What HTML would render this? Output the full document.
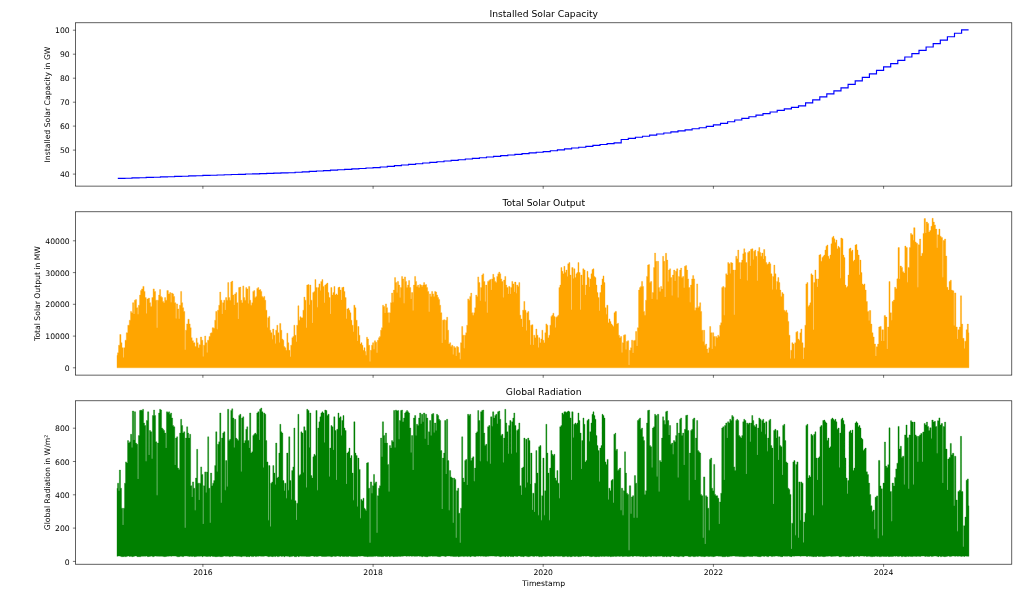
<!DOCTYPE html>
<html lang="en"><head><meta charset="utf-8"><title>Solar plots</title>
<style>
html,body{margin:0;padding:0;background:#fff;}
body{width:1024px;height:599px;overflow:hidden;}
svg{display:block;}
text{font-family:'DejaVu Sans','Liberation Sans',sans-serif;fill:#000;}
.t{font-size:9.2px;text-anchor:middle;}
.k{font-size:7.67px;}
.sp{fill:none;stroke:#000;stroke-width:0.62;}
.tk{stroke:#000;stroke-width:0.55;}
</style></head><body>
<svg width="1024" height="599" viewBox="0 0 1024 599">
<rect width="1024" height="599" fill="#fff"/>
<path d="M117.8,178.4 L124.9,178.4 L124.9,178.2 L132.0,178.2 L132.0,177.9 L139.1,177.9 L139.1,177.7 L146.2,177.7 L146.2,177.4 L153.3,177.4 L153.3,177.2 L160.4,177.2 L160.4,176.9 L167.5,176.9 L167.5,176.7 L174.6,176.7 L174.6,176.4 L181.7,176.4 L181.7,176.2 L188.7,176.2 L188.7,175.9 L195.8,175.9 L195.8,175.7 L202.9,175.7 L202.9,175.4 L210.0,175.4 L210.0,175.2 L217.1,175.2 L217.1,175.0 L224.2,175.0 L224.2,174.7 L231.3,174.7 L231.3,174.5 L238.4,174.5 L238.4,174.3 L245.5,174.3 L245.5,174.0 L252.6,174.0 L252.6,173.8 L259.7,173.8 L259.7,173.6 L266.7,173.6 L266.7,173.4 L273.8,173.4 L273.8,173.1 L280.9,173.1 L280.9,172.9 L288.0,172.9 L288.0,172.7 L295.1,172.7 L295.1,172.2 L302.2,172.2 L302.2,171.8 L309.3,171.8 L309.3,171.4 L316.4,171.4 L316.4,171.0 L323.5,171.0 L323.5,170.6 L330.5,170.6 L330.5,170.1 L337.6,170.1 L337.6,169.7 L344.7,169.7 L344.7,169.3 L351.8,169.3 L351.8,168.9 L358.9,168.9 L358.9,168.5 L366.0,168.5 L366.0,168.0 L373.1,168.0 L373.1,167.6 L380.2,167.6 L380.2,167.0 L387.3,167.0 L387.3,166.3 L394.4,166.3 L394.4,165.6 L401.4,165.6 L401.4,165.0 L408.5,165.0 L408.5,164.3 L415.6,164.3 L415.6,163.7 L422.7,163.7 L422.7,163.0 L429.8,163.0 L429.8,162.3 L436.9,162.3 L436.9,161.7 L444.0,161.7 L444.0,161.0 L451.1,161.0 L451.1,160.4 L458.2,160.4 L458.2,159.7 L465.3,159.7 L465.3,159.0 L472.4,159.0 L472.4,158.4 L479.4,158.4 L479.4,157.7 L486.5,157.7 L486.5,157.0 L493.6,157.0 L493.6,156.3 L500.7,156.3 L500.7,155.6 L507.8,155.6 L507.8,155.0 L514.9,155.0 L514.9,154.3 L522.0,154.3 L522.0,153.6 L529.1,153.6 L529.1,152.9 L536.2,152.9 L536.2,152.2 L543.2,152.2 L543.2,151.6 L550.3,151.6 L550.3,150.7 L557.4,150.7 L557.4,149.8 L564.5,149.8 L564.5,148.9 L571.6,148.9 L571.6,148.0 L578.7,148.0 L578.7,147.2 L585.8,147.2 L585.8,146.3 L592.9,146.3 L592.9,145.4 L600.0,145.4 L600.0,144.5 L607.1,144.5 L607.1,143.6 L614.1,143.6 L614.1,142.8 L621.2,142.8 L621.2,139.5 L628.3,139.5 L628.3,138.3 L635.4,138.3 L635.4,137.2 L642.5,137.2 L642.5,136.2 L649.6,136.2 L649.6,135.1 L656.7,135.1 L656.7,134.0 L663.8,134.0 L663.8,133.0 L670.9,133.0 L670.9,131.9 L678.0,131.9 L678.0,130.9 L685.1,130.9 L685.1,129.8 L692.1,129.8 L692.1,128.7 L699.2,128.7 L699.2,127.7 L706.3,127.7 L706.3,126.3 L713.4,126.3 L713.4,124.9 L720.5,124.9 L720.5,123.3 L727.6,123.3 L727.6,121.7 L734.7,121.7 L734.7,120.0 L741.8,120.0 L741.8,118.4 L748.9,118.4 L748.9,116.7 L756.0,116.7 L756.0,115.1 L763.0,115.1 L763.0,113.6 L770.1,113.6 L770.1,112.0 L777.2,112.0 L777.2,110.4 L784.3,110.4 L784.3,108.9 L791.4,108.9 L791.4,107.3 L798.5,107.3 L798.5,105.8 L805.6,105.8 L805.6,102.8 L812.7,102.8 L812.7,99.8 L819.8,99.8 L819.8,96.8 L826.8,96.8 L826.8,93.8 L833.9,93.8 L833.9,90.8 L841.0,90.8 L841.0,87.8 L848.1,87.8 L848.1,84.3 L855.2,84.3 L855.2,80.8 L862.3,80.8 L862.3,77.3 L869.4,77.3 L869.4,73.9 L876.5,73.9 L876.5,70.4 L883.6,70.4 L883.6,66.9 L890.7,66.9 L890.7,63.6 L897.8,63.6 L897.8,60.3 L904.8,60.3 L904.8,57.0 L911.9,57.0 L911.9,53.6 L919.0,53.6 L919.0,50.3 L926.1,50.3 L926.1,47.0 L933.2,47.0 L933.2,43.6 L940.3,43.6 L940.3,40.1 L947.4,40.1 L947.4,36.7 L954.5,36.7 L954.5,33.2 L961.6,33.2 L961.6,29.8 L968.6,29.8" fill="none" stroke="#0000ff" stroke-width="1.15" stroke-linejoin="miter"/>
<path d="M117.01,367.8V355.3H117.52V352.8H118.52V345.2H119.77V334.5H121.02V342.7H122.02V347.7H123.20V357.5H123.86V347.7H125.03V340.2H126.28V332.7H127.79V325.2H129.29V320.2H130.54V311.4H131.54V312.7H132.55V302.7H133.72V314.1H134.38V300.2H135.55V299.6H136.55V307.7H137.73V314.2H138.39V305.2H139.56V295.1H140.56V290.6H141.56V288.9H142.82V286.4H144.07V291.4H145.07V297.6H146.24V313.6H146.90V298.9H148.33V298.1H149.58V302.7H150.58V306.4H151.83V297.6H153.09V288.9H154.34V291.4H155.59V300.2H156.76V327.8H157.42V300.2H158.60V295.1H159.60V289.6H160.60V296.4H161.60V297.6H162.61V301.4H163.61V302.7H164.61V297.6H165.61V300.2H166.86V290.6H168.37V293.9H169.62V292.6H170.79V302.3H171.45V293.1H172.63V293.9H173.63V296.4H174.63V302.7H175.80V318.6H176.46V303.9H177.64V308.9H178.81V318.7H179.47V305.2H180.64V291.4H181.64V302.7H182.65V307.7H183.65V311.4H184.82V349.7H185.48V330.2H186.65V323.9H187.91V319.2H189.16V323.9H190.16V327.7H191.16V337.7H192.16V340.7H193.42V342.7H194.92V346.5H196.17V338.2H197.17V342.7H198.18V347.7H199.18V344.7H200.43V337.0H201.68V340.2H202.86V356.6H203.52V345.2H204.69V336.0H205.69V342.7H206.86V352.5H207.52V340.2H208.95V336.5H210.20V333.2H211.20V332.7H212.20V327.7H213.46V328.2H214.71V320.2H215.71V311.4H216.88V329.3H217.54V310.2H218.72V305.2H219.72V292.1H220.72V300.2H221.89V314.1H222.55V302.7H223.73V300.2H224.90V309.9H225.56V297.6H226.73V300.2H227.74V282.6H228.74V297.6H229.74V300.2H230.74V282.1H231.74V281.1H232.75V295.1H233.92V304.9H234.58V293.9H235.75V292.6H236.75V302.7H237.93V318.9H238.59V287.6H239.76V287.1H240.76V300.2H241.76V302.7H242.77V285.9H243.77V297.6H244.77V300.2H245.77V287.6H246.77V288.9H247.95V303.5H248.61V286.4H249.78V300.2H250.78V305.2H251.78V302.7H252.79V291.4H253.79V290.6H254.79V297.6H255.79V296.4H256.79V288.4H257.80V287.6H258.80V290.1H259.80V289.6H260.80V291.4H261.80V296.4H262.81V297.6H263.81V296.4H264.81V300.2H265.81V310.2H266.98V327.5H267.64V317.7H268.82V316.4H269.82V330.2H270.82V332.7H271.99V339.2H272.65V329.0H273.83V335.2H275.00V343.4H275.66V330.2H276.83V325.2H277.84V332.7H279.01V342.5H279.67V323.4H280.84V330.2H281.84V339.0H282.85V340.2H283.85V346.5H284.85V347.7H285.85V350.3H286.85V333.2H287.86V342.7H288.86V350.3H290.03V356.8H290.69V345.2H291.86V337.7H292.87V336.5H293.87V325.2H294.87V335.2H296.04V341.7H296.70V325.2H297.88V305.7H298.88V320.2H299.88V316.7H300.88V317.7H301.88V317.7H302.89V310.2H303.89V297.1H304.89V300.2H306.06V327.8H306.72V285.1H307.90V284.6H309.07V304.7H309.73V285.1H310.90V300.2H312.07V322.9H312.73V292.6H313.91V291.4H314.91V279.6H315.91V287.6H317.08V307.2H317.74V287.6H318.92V283.9H320.09V290.4H320.75V281.4H321.92V279.6H322.93V286.4H324.10V302.7H324.76V285.1H325.93V283.9H326.93V283.1H327.94V292.6H328.94V297.6H330.11V313.9H330.77V287.6H331.94V295.1H332.95V292.6H333.95V286.4H334.95V295.1H335.95V293.9H336.95V295.1H337.96V287.6H338.96V287.1H339.96V290.1H341.13V299.9H341.79V287.6H342.97V287.1H343.97V291.4H344.97V297.6H346.14V318.7H346.80V308.9H347.98V308.2H348.98V310.2H349.98V312.7H350.98V320.2H351.98V325.2H353.16V331.7H353.82V305.2H354.99V307.7H355.99V320.2H357.16V341.1H357.82V326.5H359.00V335.2H360.00V344.0H361.00V342.7H362.00V345.2H363.01V350.3H364.01V347.7H365.01V351.5H365.76V355.3H366.51V337.2H367.52V339.0H368.52V345.2H369.69V361.6H370.35V350.3H371.52V345.2H372.53V342.7H373.70V349.2H374.36V340.7H375.53V342.2H376.70V352.7H377.36V340.2H378.54V337.7H379.54V336.5H380.54V330.2H381.54V327.7H382.55V305.2H383.55V306.4H384.72V312.9H385.38V303.9H386.55V307.7H387.56V312.7H388.73V322.4H389.39V312.7H390.56V302.7H391.56V293.1H392.74V302.3H393.40V290.1H394.57V277.6H395.57V282.6H396.74V292.4H397.40V281.4H398.58V285.1H399.75V297.4H400.41V287.6H401.58V276.4H402.59V278.9H403.76V303.3H404.42V276.9H405.59V281.4H406.59V287.6H407.60V285.1H408.60V280.6H409.60V287.6H410.77V299.1H411.43V292.6H412.78V310.5H413.44V285.1H414.61V276.4H415.61V281.4H416.61V286.4H417.62V285.1H418.62V287.6H419.62V284.4H420.62V285.1H421.62V286.4H422.63V285.1H423.63V282.6H424.63V285.1H425.63V284.6H426.63V287.6H427.64V291.4H428.81V311.8H429.47V293.9H430.64V296.4H431.64V291.4H432.65V293.9H433.65V296.4H434.65V291.4H435.65V292.1H436.65V295.1H437.66V297.6H438.66V299.6H439.66V305.2H440.66V312.7H441.83V343.0H442.49V320.2H443.67V319.7H444.84V339.7H445.50V320.2H446.67V317.2H447.68V330.2H448.68V344.0H449.68V342.7H450.68V346.5H451.68V345.2H452.86V354.6H453.52V346.5H454.69V347.7H455.86V355.9H456.52V346.5H457.70V347.2H458.70V352.8H459.87V359.3H460.53V342.7H461.70V326.5H462.71V335.2H463.88V348.2H464.54V335.2H465.71V332.7H466.71V325.2H467.72V298.9H468.72V300.2H469.72V296.4H470.72V293.1H471.72V312.7H472.73V315.2H473.73V312.7H474.73V307.7H475.73V295.1H476.73V296.4H477.74V276.9H478.74V282.6H479.91V300.7H480.57V287.6H481.74V275.1H482.75V273.8H483.75V281.4H484.92V301.4H485.58V285.1H486.92V312.8H487.58V281.4H488.76V280.6H489.76V279.6H490.93V290.0H491.59V278.9H492.77V274.3H493.77V277.6H494.77V281.4H495.77V282.6H496.77V276.4H497.78V273.8H498.78V272.1H499.78V273.8H500.78V278.9H501.78V281.4H502.96V297.6H503.62V280.1H504.79V276.4H505.79V285.1H506.79V287.6H507.97V294.1H508.63V286.4H509.97V294.1H510.63V287.6H511.80V281.4H512.81V283.9H513.98V292.0H514.64V282.1H515.98V293.3H516.64V285.1H517.82V286.4H518.82V282.6H519.82V315.2H520.82V318.9H521.99V327.1H522.65V310.2H523.83V301.4H524.83V310.2H526.00V330.6H526.66V312.7H527.84V311.4H528.84V320.2H530.01V344.7H530.67V325.2H531.84V324.7H533.02V345.0H533.68V335.2H534.85V337.7H535.85V329.0H536.85V335.2H538.03V347.5H538.69V337.7H539.86V342.7H540.86V339.0H541.86V330.2H542.87V340.2H543.87V342.7H544.87V332.7H545.87V323.9H546.87V325.2H547.88V337.7H548.88V335.2H549.88V325.2H550.88V316.4H551.88V315.2H552.89V313.2H553.89V316.4H555.06V327.6H555.72V317.2H556.89V316.4H557.90V315.2H558.90V287.6H559.90V285.1H560.90V267.6H561.90V271.3H562.91V273.8H563.91V266.3H564.91V272.6H565.91V270.1H567.08V276.6H567.74V263.8H568.92V262.6H569.92V275.1H571.09V309.7H571.75V267.6H573.10V278.6H573.76V268.8H574.93V277.6H575.93V273.8H576.93V272.6H577.94V262.6H578.94V272.6H580.11V309.7H580.77V275.1H582.11V284.9H582.77V268.8H583.95V270.1H585.12V294.9H585.78V285.1H586.95V271.3H587.96V277.6H589.13V287.0H589.79V278.9H590.96V273.8H591.96V269.6H592.97V268.8H593.97V276.4H594.97V277.6H595.97V285.1H596.97V292.6H597.98V297.6H599.15V310.7H599.81V292.6H600.98V285.1H601.98V278.9H602.99V275.9H603.99V282.6H604.99V307.7H606.16V314.2H606.82V305.2H608.00V322.7H609.00V318.9H610.00V321.4H611.00V323.9H612.00V325.2H613.01V326.5H614.01V312.7H615.01V311.4H615.76V311.4H616.51V323.9H617.52V323.2H618.52V335.2H619.52V337.7H620.52V336.5H621.69V352.5H622.35V342.7H623.53V335.2H624.53V334.7H625.70V349.6H626.36V341.5H627.54V340.7H628.71V364.9H629.37V350.3H630.54V347.7H631.54V340.2H632.72V353.1H633.38V340.7H634.55V340.2H635.55V331.5H636.72V346.1H637.38V327.7H638.56V290.1H639.56V287.6H640.56V286.4H641.56V281.4H642.57V286.4H643.57V311.4H644.57V315.2H645.57V300.2H646.57V276.4H647.58V265.1H648.58V264.6H649.58V282.6H650.58V281.4H651.75V299.1H652.41V292.6H653.59V267.6H654.59V253.1H655.59V261.3H656.76V299.6H657.42V261.3H658.60V287.6H659.60V291.4H660.60V286.4H661.60V288.9H662.61V256.3H663.61V261.3H664.78V297.1H665.44V253.3H666.61V260.1H667.79V281.5H668.45V270.1H669.62V268.8H670.62V277.6H671.79V295.5H672.45V275.1H673.63V270.1H674.80V281.1H675.46V271.3H676.63V268.8H677.81V297.5H678.47V276.4H679.64V270.1H680.64V268.1H681.64V277.6H682.65V276.4H683.82V287.8H684.48V266.3H685.65V265.6H686.65V270.1H687.66V278.9H688.66V287.6H689.83V302.3H690.49V285.1H691.66V278.9H692.67V275.6H693.67V278.9H694.67V310.2H695.67V307.7H696.67V283.9H697.68V307.7H698.68V306.4H699.68V302.7H700.68V311.4H701.68V330.2H702.86V341.6H703.52V330.2H704.69V345.2H705.69V344.0H706.69V349.0H707.70V352.8H708.70V347.7H709.70V326.5H710.70V332.7H711.87V349.0H712.53V332.7H713.71V336.5H714.88V346.2H715.54V336.5H716.71V337.7H717.72V335.2H718.72V336.5H719.72V325.2H720.72V322.7H721.72V287.6H722.73V286.4H723.90V315.3H724.56V287.6H725.73V273.8H726.73V275.1H727.74V262.6H728.74V263.8H729.91V273.6H730.57V262.6H731.74V263.1H732.75V270.1H733.92V314.7H734.58V270.1H735.75V256.3H736.75V258.8H737.76V250.1H738.76V262.6H739.93V278.9H740.59V262.6H741.76V260.1H742.77V253.8H743.77V248.8H744.77V252.6H745.77V262.6H746.94V280.5H747.60V252.6H748.78V251.3H749.95V266.0H750.61V249.3H751.78V248.8H752.96V259.4H753.62V251.3H754.79V250.1H755.79V256.3H756.96V280.7H757.62V251.3H758.80V247.5H759.80V252.6H760.80V256.3H761.80V253.1H762.98V258.9H763.64V249.5H764.81V256.3H765.81V262.6H766.81V264.6H767.82V263.8H768.82V262.1H769.82V263.8H770.82V273.8H771.99V289.4H772.65V276.4H773.83V265.1H774.83V273.8H776.00V289.5H776.66V281.4H777.84V277.6H778.84V282.6H779.84V290.1H780.84V296.4H781.84V292.6H782.85V293.9H783.85V310.2H784.85V311.4H785.85V310.2H786.85V312.7H787.86V321.4H788.86V335.2H790.03V358.4H790.69V350.3H791.86V342.7H792.87V344.0H794.04V358.6H794.70V342.7H795.87V332.2H796.87V331.5H797.88V339.0H798.88V340.2H799.88V332.7H800.88V329.0H801.88V342.7H803.06V359.1H803.72V347.7H804.89V325.2H805.89V283.9H806.89V282.6H807.90V306.4H808.90V305.2H809.90V302.7H810.90V273.8H811.90V275.1H813.08V329.7H813.74V282.6H814.91V270.1H815.91V278.9H817.08V287.0H817.74V278.9H818.92V255.1H819.92V254.6H820.92V261.3H821.92V257.6H822.93V256.3H823.93V255.1H824.93V250.1H825.93V246.3H826.93V245.0H827.94V256.3H828.94V258.8H829.94V255.1H830.94V243.8H831.94V237.5H832.95V236.3H833.95V238.8H834.95V242.5H835.95V240.0H836.95V248.8H837.96V246.3H838.96V247.5H840.13V278.3H840.79V238.0H841.96V238.8H842.97V255.1H843.97V257.6H844.97V285.1H845.97V287.6H846.97V286.4H847.98V275.1H848.98V248.8H849.98V248.0H850.98V251.3H851.98V250.1H852.99V261.3H853.99V260.1H854.99V245.0H855.99V244.5H856.99V250.1H858.00V255.1H859.17V274.7H859.83V260.1H861.00V272.6H862.00V283.9H863.01V285.1H864.01V283.9H865.01V290.1H866.16V301.5H867.38V311.4H868.75V320.6H869.41V310.5H870.78V324.1H871.91V332.7H873.05V336.9H874.18V344.0H875.56V356.1H876.22V346.8H877.59V344.0H878.72V327.0H879.86V326.4H881.23V340.9H881.89V329.8H883.50V340.9H884.16V315.6H885.53V317.1H886.90V349.1H887.56V327.0H888.94V281.6H890.07V312.8H891.44V320.2H892.10V301.5H893.48V300.0H894.61V287.3H895.74V288.7H896.88V278.8H898.01V247.6H899.39V278.9H900.05V266.0H901.42V267.4H902.55V271.7H903.69V273.1H904.82V246.1H905.96V247.6H907.33V282.2H907.99V267.4H909.36V247.6H910.50V233.4H911.63V234.8H913.00V240.3H913.66V227.7H915.04V241.9H916.17V243.3H917.54V287.2H918.20V244.7H919.57V239.0H920.71V256.1H921.84V253.2H922.98V233.4H924.11V218.6H925.49V233.1H926.15V222.0H927.52V223.4H928.65V232.0H929.79V230.5H930.92V226.3H932.06V218.3H933.19V222.0H934.33V224.9H935.46V229.1H936.83V247.7H937.49V234.8H938.87V229.1H940.00V236.2H941.13V237.6H942.51V277.2H943.17V240.5H944.54V239.0H945.67V256.1H946.81V287.3H947.94V290.1H949.08V281.6H950.21V280.2H951.35V290.1H952.48V290.7H953.85V325.5H954.51V292.9H955.89V327.0H957.26V339.0H957.92V329.8H959.29V327.0H960.43V295.8H961.56V324.1H962.70V338.3H964.07V348.5H964.73V341.2H966.10V329.8H967.23V324.1H968.37V332.7H968.94V367.8Z" fill="#ffa500" stroke="#ffa500" stroke-width="0.35" stroke-linejoin="round"/>
<path d="M117.01,556.3V488.2H117.52V483.2H118.69V490.7H119.35V470.1H120.52V488.2H121.52V508.2H122.70V525.1H123.36V508.2H124.53V483.2H125.53V461.9H126.53V463.1H127.54V440.6H128.54V443.1H129.54V441.8H130.54V434.3H131.71V447.5H132.37V411.0H133.72V440.1H134.38V411.8H135.55V443.1H136.55V444.3H137.73V478.9H138.39V435.6H139.56V410.5H140.56V410.0H141.56V410.5H142.57V409.3H143.57V423.0H144.57V425.5H145.74V461.3H146.40V420.5H147.58V411.8H148.75V455.1H149.41V430.5H150.58V431.8H151.75V458.8H152.41V415.5H153.59V410.0H154.59V415.5H155.59V441.8H156.76V495.2H157.42V443.1H158.60V413.0H159.60V409.3H160.60V410.0H161.60V428.0H162.61V429.3H163.61V430.5H164.61V433.1H165.78V448.1H166.44V411.8H167.62V412.5H168.62V411.8H169.62V414.3H170.62V413.0H171.62V418.0H172.63V425.5H173.63V426.8H174.80V465.1H175.46V438.1H176.63V436.8H177.64V468.1H178.64V469.4H179.64V433.1H180.64V419.3H181.64V425.5H182.65V433.1H183.65V431.8H184.82V527.7H185.48V438.1H186.65V426.8H187.66V433.1H188.66V438.1H189.66V434.3H190.66V485.7H191.83V496.9H192.49V481.9H193.67V488.2H194.84V510.2H195.50V478.1H196.67V449.3H197.68V483.2H198.85V500.1H199.51V483.2H200.68V466.9H201.68V474.4H202.86V524.0H203.52V485.7H204.69V471.9H205.86V492.5H206.52V471.9H207.70V436.8H208.70V488.2H209.87V522.7H210.53V473.1H211.70V485.7H212.71V483.2H213.71V480.6H214.71V465.6H215.71V431.8H216.88V471.4H217.54V444.3H218.72V441.8H219.72V413.0H220.89V502.7H221.55V438.1H222.73V433.1H223.73V431.8H224.90V490.2H225.56V460.6H226.90V486.4H227.56V409.3H228.74V440.6H229.74V439.3H230.74V410.5H231.74V408.8H232.75V418.0H233.92V447.6H234.58V419.3H235.75V438.1H236.75V439.3H237.76V440.6H238.76V415.5H239.76V414.3H240.93V471.4H241.59V418.0H242.77V416.8H243.77V443.1H244.77V440.6H245.77V429.3H246.77V426.8H247.78V440.6H248.95V448.1H249.61V413.0H250.78V453.1H251.78V451.8H252.79V435.6H253.79V434.3H254.79V433.1H255.79V434.3H256.79V413.0H257.80V411.8H258.97V440.1H259.63V409.3H260.80V408.0H261.80V411.8H262.98V467.6H263.64V413.0H264.81V414.3H265.81V440.6H266.81V461.9H267.99V520.2H268.65V465.6H269.99V526.5H270.65V483.2H271.82V481.9H272.83V465.6H273.83V473.1H275.00V484.4H275.66V443.1H276.83V478.1H277.84V476.9H278.84V453.1H279.84V424.3H280.84V431.8H281.84V433.1H282.85V480.6H284.02V490.7H284.68V483.2H286.02V498.2H286.68V453.1H288.03V490.2H288.69V436.8H289.86V480.6H291.03V499.4H291.69V470.6H292.87V466.9H293.87V428.0H294.87V500.7H296.04V520.1H296.70V503.2H297.88V414.3H298.88V475.6H299.88V474.4H300.88V431.8H301.88V433.1H303.06V472.6H303.72V426.8H304.89V430.5H306.06V487.6H306.72V409.3H307.90V410.5H309.07V447.6H309.73V413.0H310.90V475.6H311.90V478.1H312.91V456.8H313.91V454.3H314.91V455.6H315.91V410.5H317.08V490.2H317.74V428.0H318.92V421.8H319.92V416.8H320.92V413.0H321.92V411.8H322.93V413.0H324.10V442.6H324.76V410.0H325.93V410.5H326.93V415.5H327.94V414.3H329.11V476.4H329.77V448.1H330.94V425.5H331.94V426.8H333.12V450.1H333.78V416.8H334.95V430.5H336.12V480.1H336.78V429.3H337.96V413.0H338.96V418.0H339.96V416.8H341.13V435.6H341.79V420.5H342.97V415.5H343.97V428.0H344.97V430.5H346.14V483.9H346.80V453.1H347.98V451.8H348.98V448.1H349.98V458.1H350.98V455.6H351.98V473.1H353.16V500.2H353.82V421.8H354.99V453.1H355.99V455.6H357.16V506.4H357.82V458.1H359.00V469.4H360.17V518.2H360.83V499.4H362.00V500.7H363.01V498.2H364.01V508.2H365.01V509.5H365.76V510.7H366.51V463.1H367.52V462.6H368.52V488.2H369.69V542.8H370.35V481.9H371.69V493.2H372.35V485.7H373.53V474.4H374.53V483.2H375.53V481.9H376.70V532.7H377.36V495.7H378.54V488.2H379.54V485.7H380.54V438.1H381.71V456.8H382.37V421.8H383.55V435.6H384.72V443.1H385.38V433.1H386.55V443.1H387.56V464.4H388.73V491.4H389.39V445.6H390.56V448.1H391.56V440.6H392.57V441.8H393.57V410.5H394.74V447.6H395.40V410.0H396.57V411.0H397.58V410.5H398.75V439.3H399.41V420.5H400.58V410.5H401.58V410.0H402.59V421.8H403.59V418.0H404.59V413.0H405.59V411.8H406.59V410.5H407.60V411.8H408.60V413.0H409.60V428.0H410.77V452.5H411.43V435.6H412.78V470.1H413.44V418.0H414.61V415.5H415.78V435.6H416.44V424.3H417.62V425.5H418.62V418.0H419.62V413.0H420.79V423.7H421.45V414.3H422.80V421.8H423.46V413.0H424.80V438.8H425.46V414.3H426.63V418.0H427.81V444.9H428.47V431.8H429.64V420.5H430.81V435.6H431.47V414.3H432.65V413.5H433.82V432.4H434.48V423.0H435.82V430.5H436.48V414.3H437.66V415.5H438.66V419.3H439.66V420.5H440.66V450.6H441.83V508.9H442.49V458.1H443.67V453.1H444.67V420.5H445.84V473.9H446.50V419.3H447.68V460.6H448.85V510.2H449.51V470.6H450.68V476.9H451.68V478.1H452.86V522.7H453.52V478.1H454.69V479.4H455.86V537.7H456.52V490.7H457.70V488.2H458.70V513.2H459.87V542.8H460.53V508.2H461.70V436.8H462.71V478.1H463.71V481.9H464.71V460.6H465.71V459.4H466.88V485.1H467.54V414.3H468.72V415.5H469.72V414.3H470.72V460.6H471.72V458.1H472.73V456.8H473.90V481.3H474.56V468.1H475.73V433.1H476.73V431.8H477.74V410.5H478.74V420.5H479.91V461.3H480.57V411.8H481.74V410.5H482.75V410.0H483.75V433.1H484.75V445.6H485.75V444.3H486.92V461.2H487.58V426.8H488.76V425.5H489.93V463.8H490.59V416.8H491.93V426.2H492.59V411.8H493.77V418.0H494.77V415.5H495.77V414.3H496.94V423.7H497.60V411.8H498.78V411.0H499.78V419.3H500.78V435.6H501.78V434.3H502.96V462.6H503.62V438.1H504.79V409.3H505.79V423.0H506.79V431.8H507.97V453.8H508.63V425.5H509.80V420.5H510.97V453.8H511.63V421.8H512.81V418.0H513.81V413.0H514.81V425.5H515.98V452.6H516.64V430.5H517.82V429.3H518.82V423.0H519.82V485.7H520.99V495.0H521.65V468.1H522.83V466.9H523.83V438.1H525.00V487.6H525.66V439.3H527.00V482.6H527.66V438.1H528.84V440.6H530.01V483.9H530.67V453.1H532.01V510.1H532.67V493.2H534.02V512.0H534.68V483.2H535.85V450.6H536.85V473.1H538.03V515.2H538.69V446.8H539.86V445.6H541.03V520.2H541.69V495.7H542.87V458.1H544.04V515.2H544.70V490.7H545.87V424.3H546.87V453.1H547.88V473.1H549.05V520.2H549.71V468.1H550.88V450.6H551.88V454.3H552.89V455.6H553.89V454.3H554.89V478.1H555.89V480.6H556.89V470.6H557.90V483.2H559.07V498.2H559.73V426.8H560.90V425.5H561.90V413.0H562.91V414.3H563.91V411.8H564.91V411.8H565.91V412.5H566.91V411.8H567.92V411.0H568.92V411.8H569.92V418.0H571.09V480.1H571.75V411.8H573.10V437.4H573.76V424.3H574.93V423.0H575.93V424.3H576.93V423.0H577.94V413.0H578.94V420.5H579.94V433.1H581.11V468.9H581.77V440.6H582.95V418.0H583.95V424.3H584.95V461.9H585.95V460.6H586.95V420.5H587.96V419.3H589.13V441.2H589.79V431.8H590.96V423.0H591.96V414.3H592.97V411.8H593.97V415.5H594.97V419.3H595.97V435.6H596.97V445.6H597.98V450.6H599.15V481.4H599.81V448.1H600.98V445.6H601.98V414.3H602.99V415.5H603.99V418.0H604.99V461.9H605.99V464.4H606.99V459.4H608.17V499.4H608.83V488.2H610.00V490.7H611.00V480.6H612.00V479.4H613.18V502.7H613.84V434.3H615.01V433.1H615.76V450.6H616.51V449.3H617.52V470.6H618.52V469.4H619.52V468.1H620.69V510.2H621.35V488.2H622.70V515.2H623.36V490.7H624.53V451.8H625.53V473.1H626.53V493.2H627.54V494.4H628.71V550.3H629.37V485.7H630.71V513.8H631.37V496.9H632.55V495.7H633.72V517.7H634.38V475.6H635.55V483.2H636.72V517.7H637.38V420.5H638.56V419.3H639.56V418.0H640.56V429.3H641.56V428.0H642.57V436.8H643.57V440.6H644.57V494.4H645.57V490.7H646.57V423.0H647.58V410.5H648.58V410.0H649.58V445.6H650.58V446.8H651.75V467.5H652.41V428.0H653.59V426.8H654.59V414.3H655.59V415.5H656.76V476.4H657.42V414.3H658.77V491.4H659.43V460.6H660.60V461.9H661.60V438.1H662.61V416.8H663.61V420.5H664.61V424.3H665.61V411.8H666.61V411.0H667.62V420.5H668.79V434.9H669.45V425.5H670.62V444.3H671.62V443.1H672.80V454.3H673.46V440.6H674.63V441.8H675.63V435.6H676.63V423.0H677.81V477.6H678.47V433.1H679.64V419.3H680.64V418.0H681.64V435.6H682.65V433.1H683.82V465.1H684.48V429.3H685.65V415.5H686.65V415.0H687.66V430.5H688.83V500.2H689.49V453.1H690.66V430.5H691.66V429.3H692.67V419.3H693.67V418.0H694.84V480.1H695.50V438.1H696.67V420.5H697.68V450.6H698.68V451.8H699.68V453.1H700.68V494.4H701.68V495.7H702.86V537.7H703.52V476.9H704.86V544.0H705.52V495.7H706.69V496.9H707.70V508.2H708.87V530.2H709.53V459.4H710.70V458.1H711.70V488.2H712.71V490.7H713.71V464.4H714.71V494.4H715.71V495.7H716.71V495.7H717.72V498.2H718.89V524.0H719.55V501.9H720.72V493.2H721.72V428.0H722.73V426.8H723.90V480.1H724.56V425.5H725.73V423.0H726.90V438.1H727.56V421.8H728.74V423.0H729.74V419.3H730.74V420.5H731.74V415.5H732.75V416.8H733.75V466.9H734.75V470.6H735.75V420.5H736.75V419.3H737.76V420.5H738.76V435.6H739.76V436.8H740.76V438.1H741.76V435.6H742.77V421.8H743.77V419.3H744.77V420.5H745.94V473.9H746.60V423.0H747.78V424.3H748.78V423.0H749.95V441.8H750.61V423.0H751.78V415.5H752.79V420.5H753.79V425.5H754.79V426.8H755.79V424.3H756.96V455.1H757.62V428.0H758.80V418.0H759.80V419.3H760.97V431.8H761.63V420.5H762.81V419.3H763.81V423.0H764.98V434.3H765.64V421.8H766.98V451.2H767.64V438.1H768.82V420.5H769.82V419.3H770.82V445.6H771.82V448.1H773.00V503.9H773.66V430.5H774.83V429.3H776.00V438.1H776.66V430.5H778.01V460.1H778.67V436.8H779.84V445.6H780.84V446.8H782.01V475.1H782.67V425.5H783.85V424.3H784.85V440.6H785.85V461.9H786.85V463.1H787.86V488.2H788.86V489.4H789.86V494.4H791.03V549.0H791.69V523.2H792.87V461.9H793.87V460.6H795.04V535.2H795.70V464.4H796.87V461.9H798.05V537.7H798.71V481.9H800.05V520.2H800.71V481.9H801.88V483.2H803.06V542.6H803.72V522.0H804.89V513.2H805.89V425.5H806.89V424.3H807.90V478.1H808.90V475.6H809.90V476.9H810.90V434.3H811.90V435.6H813.08V515.2H813.74V434.3H814.91V431.8H815.91V458.1H817.08V480.1H817.74V458.1H818.92V456.8H819.92V426.8H820.92V425.5H822.09V505.2H822.75V420.5H823.93V420.0H824.93V421.8H825.93V423.0H826.93V440.6H827.94V438.1H828.94V448.1H829.94V446.8H830.94V419.3H831.94V418.0H832.95V419.3H833.95V420.5H834.95V419.3H835.95V421.8H836.95V429.3H837.96V428.0H839.13V467.6H839.79V433.1H840.96V419.3H841.96V418.0H842.97V420.5H843.97V424.3H844.97V458.1H845.97V478.1H847.14V493.8H847.80V480.6H848.98V431.8H849.98V430.5H850.98V433.1H851.98V430.0H852.99V470.6H853.99V468.1H854.99V423.0H855.99V421.8H856.99V423.0H858.00V426.8H859.00V425.5H860.00V428.0H861.00V438.1H862.00V439.3H863.01V450.6H864.01V449.3H865.01V448.1H866.16V471.8H867.38V474.6H868.51V483.1H869.65V494.5H870.78V505.8H871.91V511.5H873.05V510.1H874.42V529.2H875.08V497.3H876.45V495.9H877.83V538.3H878.49V460.4H879.86V485.9H880.99V488.8H882.37V535.5H883.03V483.1H884.40V442.0H885.53V466.1H886.67V467.5H887.80V464.7H888.94V427.8H890.07V491.6H891.44V521.3H892.10V483.1H893.48V485.9H894.61V477.4H895.74V468.9H896.88V463.2H898.01V426.4H899.15V449.1H900.28V446.2H901.42V457.6H902.55V456.2H903.93V484.4H904.59V434.9H905.96V425.0H907.09V437.7H908.46V488.7H909.12V434.9H910.50V420.7H911.63V422.1H913.00V484.4H913.66V422.1H915.04V434.9H916.17V436.3H917.54V461.7H918.20V436.3H919.57V434.9H920.71V433.5H922.08V461.7H922.74V432.0H924.11V423.5H925.25V425.0H926.38V422.1H927.52V426.4H928.65V430.6H929.79V427.8H931.16V438.4H931.82V420.1H933.19V422.1H934.33V421.3H935.46V426.4H936.83V453.2H937.49V420.7H938.87V417.9H940.00V425.0H941.13V423.5H942.51V483.0H943.17V426.4H944.54V422.1H945.67V449.1H947.05V490.1H947.71V459.0H949.08V457.6H950.21V443.4H951.35V454.7H952.48V453.3H953.85V505.7H954.51V456.2H955.89V500.1H957.26V531.2H957.92V491.6H959.29V490.2H960.43V436.3H961.56V491.6H962.93V546.8H963.59V525.7H964.96V517.1H966.10V480.3H967.23V478.9H968.37V505.8H968.94V556.3H967.6V556.21H966.3V556.07H965.0V556.47H963.7V556.01H962.4V556.38H961.1V556.24H959.8V556.00H958.5V556.36H957.2V555.98H955.9V556.30H954.6V556.01H953.3V556.02H952.0V556.29H950.7V556.61H949.4V556.05H948.1V556.13H946.8V556.45H945.5V556.71H944.2V556.41H942.9V556.27H941.6V556.73H940.3V555.99H939.0V556.64H937.7V556.18H936.4V556.07H935.1V556.04H933.8V556.20H932.5V556.60H931.2V556.09H929.9V556.42H928.6V556.46H927.3V556.25H926.0V556.39H924.7V556.00H923.4V556.00H922.1V556.11H920.8V556.49H919.5V556.29H918.2V556.20H916.9V556.42H915.6V556.31H914.3V556.19H913.0V556.59H911.7V556.51H910.4V556.15H909.1V556.41H907.8V556.37H906.5V556.65H905.2V556.53H903.9V556.18H902.6V556.73H901.3V556.04H900.0V556.28H898.7V556.56H897.4V556.07H896.1V556.34H894.8V555.98H893.5V556.48H892.2V556.56H890.9V556.41H889.6V556.65H888.3V556.20H887.0V556.51H885.7V556.43H884.4V556.41H883.1V556.31H881.8V556.62H880.5V556.71H879.2V556.33H877.9V556.48H876.6V556.00H875.3V556.51H874.0V556.47H872.7V556.74H871.4V556.61H870.1V556.18H868.8V556.26H867.5V556.48H866.2V555.97H864.9V556.32H863.6V556.08H862.3V556.04H861.0V556.00H859.7V556.56H858.4V556.05H857.1V556.15H855.8V556.26H854.5V556.65H853.2V556.01H851.9V556.31H850.6V556.39H849.3V556.66H848.0V556.61H846.7V556.64H845.4V556.17H844.1V556.28H842.8V556.24H841.5V556.66H840.2V556.72H838.9V556.07H837.6V556.09H836.3V556.14H835.0V556.14H833.7V556.34H832.4V556.42H831.1V556.16H829.8V555.95H828.5V556.29H827.2V556.25H825.9V556.40H824.6V556.71H823.3V556.50H822.0V556.36H820.7V556.44H819.4V556.49H818.1V555.99H816.8V556.67H815.5V556.57H814.2V556.65H812.9V556.59H811.6V556.26H810.3V556.27H809.0V556.03H807.7V556.46H806.4V556.00H805.1V556.00H803.8V556.12H802.5V556.08H801.2V556.22H799.9V555.99H798.6V555.95H797.3V556.07H796.0V556.03H794.7V556.24H793.4V555.97H792.1V556.65H790.8V556.44H789.5V556.07H788.2V556.15H786.9V556.23H785.6V556.24H784.3V556.05H783.0V556.63H781.7V556.74H780.4V556.32H779.1V556.34H777.8V556.02H776.5V556.03H775.2V556.22H773.9V556.16H772.6V556.61H771.3V556.08H770.0V555.97H768.7V556.71H767.4V556.37H766.1V556.07H764.8V556.38H763.5V555.97H762.2V556.37H760.9V556.73H759.6V556.64H758.3V556.51H757.0V556.16H755.7V556.24H754.4V556.08H753.1V556.57H751.8V556.38H750.5V556.57H749.2V556.21H747.9V556.13H746.6V556.60H745.3V556.74H744.0V556.63H742.7V556.59H741.4V556.60H740.1V556.54H738.8V556.13H737.5V556.36H736.2V556.23H734.9V555.97H733.6V555.97H732.3V556.17H731.0V556.16H729.7V556.50H728.4V556.72H727.1V556.31H725.8V556.70H724.5V556.74H723.2V556.71H721.9V556.24H720.6V556.13H719.3V556.13H718.0V556.11H716.7V556.11H715.4V556.45H714.1V556.67H712.8V556.62H711.5V556.33H710.2V556.47H708.9V556.59H707.6V556.02H706.3V556.48H705.0V556.68H703.7V556.58H702.4V556.55H701.1V556.33H699.8V556.09H698.5V556.58H697.2V556.22H695.9V556.59H694.6V556.73H693.3V556.27H692.0V556.27H690.7V556.71H689.4V556.53H688.1V556.09H686.8V556.05H685.5V556.07H684.2V556.67H682.9V556.60H681.6V556.07H680.3V556.61H679.0V556.73H677.7V556.48H676.4V556.23H675.1V556.39H673.8V556.05H672.5V555.96H671.2V556.73H669.9V556.47H668.6V556.37H667.3V556.70H666.0V556.30H664.7V556.65H663.4V556.61H662.1V556.12H660.8V556.15H659.5V556.18H658.2V556.14H656.9V556.42H655.6V556.16H654.3V556.29H653.0V556.05H651.7V556.68H650.4V556.23H649.1V556.32H647.8V556.42H646.5V556.67H645.2V556.29H643.9V556.68H642.6V556.35H641.3V556.38H640.0V556.37H638.7V555.96H637.4V556.30H636.1V556.10H634.8V555.95H633.5V556.59H632.2V556.09H630.9V556.33H629.6V556.53H628.3V556.40H627.0V556.21H625.7V556.36H624.4V556.39H623.1V556.58H621.8V556.03H620.5V556.40H619.2V556.15H617.9V556.17H616.6V556.57H615.3V556.36H614.0V556.40H612.7V556.56H611.4V556.68H610.1V556.30H608.8V556.44H607.5V556.35H606.2V556.36H604.9V556.50H603.6V556.31H602.3V556.38H601.0V556.33H599.7V556.70H598.4V556.51H597.1V556.65H595.8V556.70H594.5V556.16H593.2V556.40H591.9V556.70H590.6V556.62H589.3V556.06H588.0V556.05H586.7V556.30H585.4V556.01H584.1V556.14H582.8V556.01H581.5V556.49H580.2V556.58H578.9V556.67H577.6V556.07H576.3V556.52H575.0V556.48H573.7V556.06H572.4V556.66H571.1V556.72H569.8V556.13H568.5V556.71H567.2V556.27H565.9V556.34H564.6V556.74H563.3V556.62H562.0V556.08H560.7V556.30H559.4V556.36H558.1V556.22H556.8V556.11H555.5V556.20H554.2V556.53H552.9V555.97H551.6V556.39H550.3V556.30H549.0V555.96H547.7V556.22H546.4V556.45H545.1V556.36H543.8V556.00H542.5V556.74H541.2V556.58H539.9V556.73H538.6V556.03H537.3V556.16H536.0V555.98H534.7V556.57H533.4V556.17H532.1V556.05H530.8V556.29H529.5V556.68H528.2V556.61H526.9V556.16H525.6V556.07H524.3V556.69H523.0V556.41H521.7V556.51H520.4V556.02H519.1V556.00H517.8V556.50H516.5V556.29H515.2V556.01H513.9V556.70H512.6V556.46H511.3V556.59H510.0V556.02H508.7V556.63H507.4V556.00H506.1V556.64H504.8V556.31H503.5V556.22H502.2V556.39H500.9V556.69H499.6V556.16H498.3V556.05H497.0V556.37H495.7V556.14H494.4V556.04H493.1V556.08H491.8V555.99H490.5V556.11H489.2V556.20H487.9V556.19H486.6V556.56H485.3V556.18H484.0V556.35H482.7V556.09H481.4V556.23H480.1V555.96H478.8V556.15H477.5V555.96H476.2V556.54H474.9V556.39H473.6V556.10H472.3V556.33H471.0V556.70H469.7V556.04H468.4V556.61H467.1V556.30H465.8V556.35H464.5V556.62H463.2V556.26H461.9V556.36H460.6V556.50H459.3V556.74H458.0V556.22H456.7V556.62H455.4V556.52H454.1V556.46H452.8V556.27H451.5V556.23H450.2V555.99H448.9V556.05H447.6V556.01H446.3V556.54H445.0V556.15H443.7V556.08H442.4V556.02H441.1V556.62H439.8V556.65H438.5V556.49H437.2V556.18H435.9V556.14H434.6V556.18H433.3V556.32H432.0V556.08H430.7V556.31H429.4V556.16H428.1V556.72H426.8V556.73H425.5V556.39H424.2V556.15H422.9V556.72H421.6V556.20H420.3V556.24H419.0V555.95H417.7V556.26H416.4V556.33H415.1V556.35H413.8V556.11H412.5V556.35H411.2V555.95H409.9V556.16H408.6V556.02H407.3V556.27H406.0V555.98H404.7V555.97H403.4V556.19H402.1V556.14H400.8V556.42H399.5V556.37H398.2V556.55H396.9V556.48H395.6V556.52H394.3V556.65H393.0V556.26H391.7V556.21H390.4V556.74H389.1V556.07H387.8V556.53H386.5V556.46H385.2V555.99H383.9V556.62H382.6V556.66H381.3V556.45H380.0V556.54H378.7V556.60H377.4V556.06H376.1V556.37H374.8V556.35H373.5V556.62H372.2V556.59H370.9V556.61H369.6V556.42H368.3V556.66H367.0V556.50H365.7V556.50H364.4V556.13H363.1V555.97H361.8V556.06H360.5V556.24H359.2V556.03H357.9V556.62H356.6V556.40H355.3V556.45H354.0V556.45H352.7V556.49H351.4V556.34H350.1V555.95H348.8V556.59H347.5V556.55H346.2V556.35H344.9V556.38H343.6V556.48H342.3V556.00H341.0V556.54H339.7V556.15H338.4V556.01H337.1V556.16H335.8V556.53H334.5V556.11H333.2V556.54H331.9V556.73H330.6V556.35H329.3V556.26H328.0V556.33H326.7V556.50H325.4V556.56H324.1V556.44H322.8V556.46H321.5V556.01H320.2V556.07H318.9V556.15H317.6V556.54H316.3V556.19H315.0V556.40H313.7V555.96H312.4V556.00H311.1V556.17H309.8V556.49H308.5V556.50H307.2V556.49H305.9V556.18H304.6V556.36H303.3V556.32H302.0V556.32H300.7V556.04H299.4V556.66H298.1V556.11H296.8V556.73H295.5V556.70H294.2V555.96H292.9V556.32H291.6V556.61H290.3V556.72H289.0V556.31H287.7V556.16H286.4V556.12H285.1V556.71H283.8V556.12H282.5V556.42H281.2V556.06H279.9V556.37H278.6V556.71H277.3V556.06H276.0V556.61H274.7V556.36H273.4V556.66H272.1V556.51H270.8V556.14H269.5V556.67H268.2V556.34H266.9V555.97H265.6V555.95H264.3V556.34H263.0V556.31H261.7V556.19H260.4V556.06H259.1V556.23H257.8V556.20H256.5V556.62H255.2V555.95H253.9V556.55H252.6V556.62H251.3V556.05H250.0V556.69H248.7V556.52H247.4V556.67H246.1V556.18H244.8V556.25H243.5V556.26H242.2V556.75H240.9V556.42H239.6V556.24H238.3V556.29H237.0V556.17H235.7V555.99H234.4V556.03H233.1V556.62H231.8V556.18H230.5V556.70H229.2V556.15H227.9V556.16H226.6V556.36H225.3V556.10H224.0V556.25H222.7V556.71H221.4V556.66H220.1V556.60H218.8V556.45H217.5V556.68H216.2V556.70H214.9V556.39H213.6V556.53H212.3V555.99H211.0V556.54H209.7V556.31H208.4V556.55H207.1V556.47H205.8V556.18H204.5V555.99H203.2V556.69H201.9V556.05H200.6V556.33H199.3V556.22H198.0V556.19H196.7V556.54H195.4V556.73H194.1V556.16H192.8V556.47H191.5V556.19H190.2V556.40H188.9V556.27H187.6V556.08H186.3V556.08H185.0V556.12H183.7V556.67H182.4V556.35H181.1V556.13H179.8V556.68H178.5V556.75H177.2V556.31H175.9V556.06H174.6V556.10H173.3V556.02H172.0V556.22H170.7V556.02H169.4V556.14H168.1V556.16H166.8V556.41H165.5V556.66H164.2V556.55H162.9V556.28H161.6V556.28H160.3V556.37H159.0V556.25H157.7V556.22H156.4V556.00H155.1V556.17H153.8V556.72H152.5V556.05H151.2V556.35H149.9V556.45H148.6V556.64H147.3V556.12H146.0V556.17H144.7V556.15H143.4V556.27H142.1V556.31H140.8V556.71H139.5V556.63H138.2V556.65H136.9V555.97H135.6V555.98H134.3V556.52H133.0V556.67H131.7V556.33H130.4V556.42H129.1V555.95H127.8V556.26H126.5V556.69H125.2V556.61H123.9V556.63H122.6V556.73H121.3V556.15H120.0V556.04H118.7V556.07H117.4V556.37H117.01Z" fill="#008000" stroke="#008000" stroke-width="0.35" stroke-linejoin="round"/>
<rect class="sp" x="75.6" y="22.8" width="936.2" height="163.3"/>
<text class="t" x="543.7" y="16.9">Installed Solar Capacity</text>
<text class="k" text-anchor="middle" transform="translate(50.0,104.5) rotate(-90)">Installed Solar Capacity in GW</text>
<line class="tk" x1="72.9" x2="75.6" y1="174.1" y2="174.1"/>
<text class="k" text-anchor="end" x="69.7" y="177.2">40</text>
<line class="tk" x1="72.9" x2="75.6" y1="150.1" y2="150.1"/>
<text class="k" text-anchor="end" x="69.7" y="153.2">50</text>
<line class="tk" x1="72.9" x2="75.6" y1="126.1" y2="126.1"/>
<text class="k" text-anchor="end" x="69.7" y="129.2">60</text>
<line class="tk" x1="72.9" x2="75.6" y1="102.2" y2="102.2"/>
<text class="k" text-anchor="end" x="69.7" y="105.3">70</text>
<line class="tk" x1="72.9" x2="75.6" y1="78.2" y2="78.2"/>
<text class="k" text-anchor="end" x="69.7" y="81.3">80</text>
<line class="tk" x1="72.9" x2="75.6" y1="54.2" y2="54.2"/>
<text class="k" text-anchor="end" x="69.7" y="57.3">90</text>
<line class="tk" x1="72.9" x2="75.6" y1="30.2" y2="30.2"/>
<text class="k" text-anchor="end" x="69.7" y="33.3">100</text>
<line class="tk" x1="202.9" x2="202.9" y1="186.1" y2="188.8"/>
<line class="tk" x1="373.1" x2="373.1" y1="186.1" y2="188.8"/>
<line class="tk" x1="543.2" x2="543.2" y1="186.1" y2="188.8"/>
<line class="tk" x1="713.4" x2="713.4" y1="186.1" y2="188.8"/>
<line class="tk" x1="883.6" x2="883.6" y1="186.1" y2="188.8"/>
<rect class="sp" x="75.6" y="211.8" width="936.2" height="163.3"/>
<text class="t" x="543.7" y="205.9">Total Solar Output</text>
<text class="k" text-anchor="middle" transform="translate(40.0,293.5) rotate(-90)">Total Solar Output in MW</text>
<line class="tk" x1="72.9" x2="75.6" y1="367.8" y2="367.8"/>
<text class="k" text-anchor="end" x="69.7" y="370.9">0</text>
<line class="tk" x1="72.9" x2="75.6" y1="336.1" y2="336.1"/>
<text class="k" text-anchor="end" x="69.7" y="339.2">10000</text>
<line class="tk" x1="72.9" x2="75.6" y1="304.3" y2="304.3"/>
<text class="k" text-anchor="end" x="69.7" y="307.4">20000</text>
<line class="tk" x1="72.9" x2="75.6" y1="272.6" y2="272.6"/>
<text class="k" text-anchor="end" x="69.7" y="275.7">30000</text>
<line class="tk" x1="72.9" x2="75.6" y1="240.8" y2="240.8"/>
<text class="k" text-anchor="end" x="69.7" y="243.9">40000</text>
<line class="tk" x1="202.9" x2="202.9" y1="375.1" y2="377.8"/>
<line class="tk" x1="373.1" x2="373.1" y1="375.1" y2="377.8"/>
<line class="tk" x1="543.2" x2="543.2" y1="375.1" y2="377.8"/>
<line class="tk" x1="713.4" x2="713.4" y1="375.1" y2="377.8"/>
<line class="tk" x1="883.6" x2="883.6" y1="375.1" y2="377.8"/>
<rect class="sp" x="75.6" y="400.8" width="936.2" height="163.4"/>
<text class="t" x="543.7" y="394.9">Global Radiation</text>
<text class="k" text-anchor="middle" transform="translate(50.0,482.5) rotate(-90)">Global Radiation in W/m²</text>
<line class="tk" x1="72.9" x2="75.6" y1="561.4" y2="561.4"/>
<text class="k" text-anchor="end" x="69.7" y="564.5">0</text>
<line class="tk" x1="72.9" x2="75.6" y1="528.1" y2="528.1"/>
<text class="k" text-anchor="end" x="69.7" y="531.2">200</text>
<line class="tk" x1="72.9" x2="75.6" y1="494.8" y2="494.8"/>
<text class="k" text-anchor="end" x="69.7" y="497.9">400</text>
<line class="tk" x1="72.9" x2="75.6" y1="461.5" y2="461.5"/>
<text class="k" text-anchor="end" x="69.7" y="464.6">600</text>
<line class="tk" x1="72.9" x2="75.6" y1="428.2" y2="428.2"/>
<text class="k" text-anchor="end" x="69.7" y="431.3">800</text>
<line class="tk" x1="202.9" x2="202.9" y1="564.2" y2="566.9"/>
<text class="k" text-anchor="middle" x="202.9" y="575.2">2016</text>
<line class="tk" x1="373.1" x2="373.1" y1="564.2" y2="566.9"/>
<text class="k" text-anchor="middle" x="373.1" y="575.2">2018</text>
<line class="tk" x1="543.2" x2="543.2" y1="564.2" y2="566.9"/>
<text class="k" text-anchor="middle" x="543.2" y="575.2">2020</text>
<line class="tk" x1="713.4" x2="713.4" y1="564.2" y2="566.9"/>
<text class="k" text-anchor="middle" x="713.4" y="575.2">2022</text>
<line class="tk" x1="883.6" x2="883.6" y1="564.2" y2="566.9"/>
<text class="k" text-anchor="middle" x="883.6" y="575.2">2024</text>
<text class="k" text-anchor="middle" x="543.7" y="586.0">Timestamp</text>
</svg></body></html>
